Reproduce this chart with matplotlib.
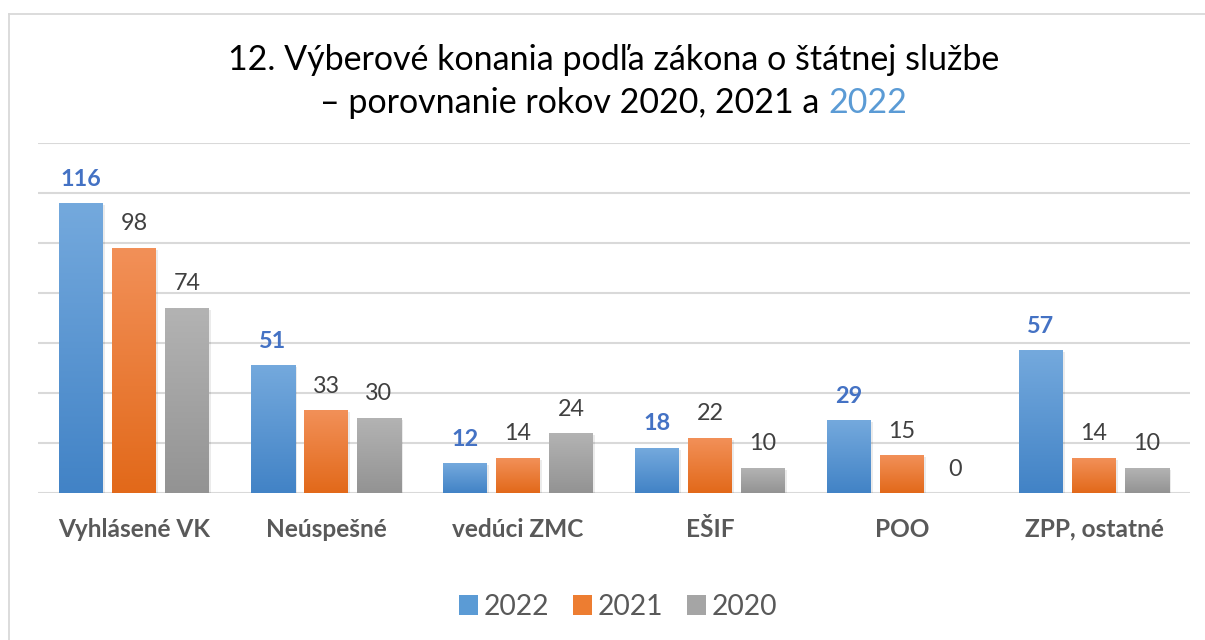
import matplotlib
matplotlib.use("Agg")
import matplotlib.pyplot as plt
import numpy as np
from matplotlib.colors import LinearSegmentedColormap
from matplotlib.patches import Patch
from matplotlib.lines import Line2D

plt.rcParams['font.family'] = ['Lato', 'DejaVu Sans']

categories = ["Vyhlásené VK", "Neúspešné", "vedúci ZMC", "EŠIF", "POO", "ZPP, ostatné"]
years = ["2022", "2021", "2020"]
v2022 = [116, 51, 12, 18, 29, 57]
v2021 = [98, 33, 14, 22, 15, 14]
v2020 = [74, 30, 24, 10, 0, 10]
series = [v2022, v2021, v2020]

grad = [("#74a9dd", "#4283c6"), ("#f29058", "#e2691a"), ("#b3b3b3", "#939393")]
solid = ["#5b9bd5", "#ed7d31", "#a5a5a5"]
label_colors = ["#4472c4", "#404040", "#404040"]
label_weights = ["bold", "normal", "normal"]

W, H = 1205, 640
fig = plt.figure(figsize=(W / 100, H / 100), dpi=100)

# frame
fig.add_artist(Line2D([8.5 / W, 8.5 / W], [0, 1 - 13.5 / H], transform=fig.transFigure,
                      color="#d9d9d9", lw=1.3))
fig.add_artist(Line2D([8.5 / W, 1], [1 - 13.5 / H, 1 - 13.5 / H], transform=fig.transFigure,
                      color="#d9d9d9", lw=1.3))

left, right = 38 / W, 1190 / W
bottom, top = 1 - 493 / H, 1 - 143 / H
ax = fig.add_axes([left, bottom, right - left, top - bottom])
ax.set_xlim(-0.5, len(categories) - 0.5)
ax.set_ylim(0, 140)
for s in ax.spines.values():
    s.set_visible(False)
ax.set_yticks(np.arange(0, 141, 20))
ax.yaxis.grid(True, color="#d9d9d9", lw=1.5)
ax.set_axisbelow(True)
ax.tick_params(left=False, labelleft=False, bottom=False, labelbottom=False)

bw = 44 / 192
step = 53 / 192
x = np.arange(len(categories))
for si, vals in enumerate(series):
    cmap = LinearSegmentedColormap.from_list("g%d" % si, [grad[si][1], grad[si][0]])
    offs = (si - 1) * step
    for xi, v in zip(x, vals):
        x0 = xi + offs - bw / 2
        if v > 0:
            # soft shadow
            ax.bar(xi + offs + 0.006, v, width=bw + 0.012, bottom=-0.6, color="#000000",
                   alpha=0.08, zorder=2, linewidth=0)
            img = np.linspace(0, 1, 100).reshape(-1, 1)
            ax.imshow(img, cmap=cmap, origin="lower", aspect="auto",
                      extent=[x0, x0 + bw, 0, v], zorder=3, interpolation="bilinear")
        ax.annotate(str(v), xy=(xi + offs, v), xytext=(0, 12.6), textcoords="offset points",
                    ha="center", va="baseline", fontsize=16.8, color=label_colors[si],
                    fontweight=label_weights[si], zorder=5)

ax.set_xlim(-0.5, len(categories) - 0.5)
ax.set_ylim(0, 140)

for xi, c in zip(x, categories):
    ax.annotate(c, xy=(xi, 0), xytext=(0, -31.5), textcoords="offset points",
                ha="center", va="baseline", fontsize=17.6, fontweight="bold", color="#595959")

# title
TS = 24.5
fig.text(614 / W, 1 - 60 / H, "12. Výberové konania podľa zákona o štátnej službe",
         ha="center", va="center", fontsize=TS, color="#000000")
renderer = fig.canvas.get_renderer()
t1 = fig.text(0, 1 - 103 / H, "– porovnanie rokov 2020, 2021 a ", ha="left", va="center",
              fontsize=TS, color="#000000")
t2 = fig.text(0, 1 - 103 / H, "2022", ha="left", va="center", fontsize=TS, color="#5b9bd5")
w1 = t1.get_window_extent(renderer).width
w2 = t2.get_window_extent(renderer).width
total = w1 + w2
start = 614 - total / 2
t1.set_x(start / W)
t2.set_x((start + w1) / W)

handles = [Patch(facecolor=solid[i], edgecolor="none") for i in range(3)]
fig.legend(handles, years, loc="center", bbox_to_anchor=(618 / W, 1 - 607 / H), ncol=3,
           frameon=False, fontsize=20.3, handlelength=0.68, handleheight=0.68,
           handletextpad=0.2, columnspacing=0.85, labelcolor="#595959")

fig.savefig("out.png", dpi=100)
